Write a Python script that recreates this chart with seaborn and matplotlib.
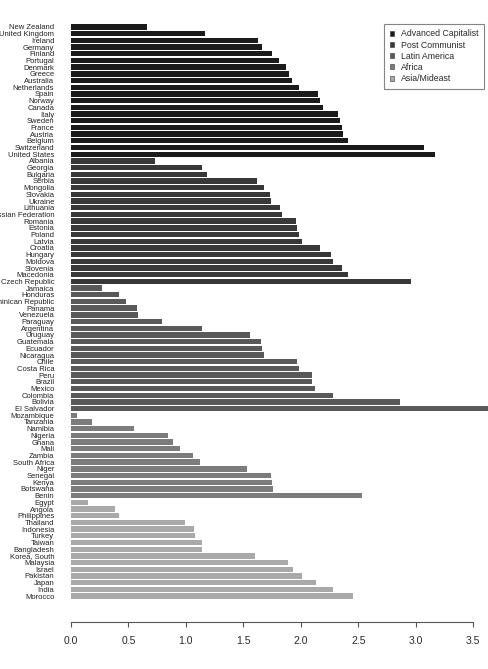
import pandas as pd
import matplotlib.pyplot as plt
from matplotlib.patches import Patch
import seaborn as sns

# valores, por grupo de países
grupos = ['Advanced Capitalist', 'Post Communist', 'Latin America', 'Africa', 'Asia/Mideast']
cores = ['#1b1b1b', '#383838', '#595959', '#7c7c7c', '#a9a9a9']

paises_adv = ['New Zealand', 'United Kingdom', 'Ireland', 'Germany', 'Finland', 'Portugal',
              'Denmark', 'Greece', 'Australia', 'Netherlands', 'Spain', 'Norway', 'Canada',
              'Italy', 'Sweden', 'France', 'Austria', 'Belgium', 'Switzerland', 'United States']
valores_adv = [0.66, 1.17, 1.63, 1.66, 1.75, 1.81, 1.87, 1.90, 1.92, 1.98, 2.15, 2.17, 2.19,
               2.32, 2.34, 2.36, 2.37, 2.41, 3.07, 3.17]

paises_pc = ['Albania', 'Georgia', 'Bulgaria', 'Serbia', 'Mongolia', 'Slovakia', 'Ukraine',
             'Lithuania', 'Russian Federation', 'Romania', 'Estonia', 'Poland', 'Latvia',
             'Croatia', 'Hungary', 'Moldova', 'Slovenia', 'Macedonia', 'Czech Republic']
valores_pc = [0.73, 1.14, 1.18, 1.62, 1.68, 1.73, 1.74, 1.82, 1.84, 1.96, 1.97, 1.98, 2.01,
              2.17, 2.26, 2.28, 2.36, 2.41, 2.96]

paises_la = ['Jamaica', 'Honduras', 'Dominican Republic', 'Panama', 'Venezuela', 'Paraguay',
             'Argentina', 'Uruguay', 'Guatemala', 'Ecuador', 'Nicaragua', 'Chile', 'Costa Rica',
             'Peru', 'Brazil', 'Mexico', 'Colombia', 'Bolivia', 'El Salvador']
valores_la = [0.27, 0.42, 0.48, 0.57, 0.58, 0.79, 1.14, 1.56, 1.65, 1.66, 1.68, 1.97, 1.98,
              2.10, 2.10, 2.12, 2.28, 2.86, 3.70]

paises_af = ['Mozambique', 'Tanzania', 'Namibia', 'Nigeria', 'Ghana', 'Mali', 'Zambia',
             'South Africa', 'Niger', 'Senegal', 'Kenya', 'Botswana', 'Benin']
valores_af = [0.05, 0.18, 0.55, 0.84, 0.89, 0.95, 1.06, 1.12, 1.53, 1.74, 1.75, 1.76, 2.53]

paises_as = ['Egypt', 'Angola', 'Philippines', 'Thailand', 'Indonesia', 'Turkey', 'Taiwan',
             'Bangladesh', 'Korea, South', 'Malaysia', 'Israel', 'Pakistan', 'Japan', 'India',
             'Morocco']
valores_as = [0.145, 0.38, 0.42, 0.99, 1.07, 1.08, 1.14, 1.14, 1.60, 1.89, 1.93, 2.01, 2.13,
              2.28, 2.45]

ticks_x = [0.0, 0.5, 1.0, 1.5, 2.0, 2.5, 3.0, 3.5]

# --- montar o DataFrame ---
partes = []
for g, p, v in zip(grupos,
                   [paises_adv, paises_pc, paises_la, paises_af, paises_as],
                   [valores_adv, valores_pc, valores_la, valores_af, valores_as]):
    partes.append(pd.DataFrame({'pais': p, 'valor': v, 'grupo': g}))
df = pd.concat(partes, ignore_index=True)

sns.set_theme(style="white")
plt.rcParams['font.family'] = ['Liberation Sans', 'DejaVu Sans']

W, H = 489, 669
fig = plt.figure(figsize=(W / 100, H / 100), dpi=100)
topo, base = 23.65, 599.4
ax = fig.add_axes([71 / W, 1 - base / H, 402.3 / W, (base - topo) / H])

sns.barplot(data=df, x='valor', y='pais', hue='grupo', order=list(df['pais']),
            hue_order=grupos, palette=cores, dodge=False, saturation=1,
            width=0.8, linewidth=0, legend=False, ax=ax)
for barra in ax.patches:
    barra.set_clip_on(False)

ax.set_xlim(0, 3.5)
ax.set_xticks(ticks_x)
ax.set_xticklabels([f'{t:.1f}' for t in ticks_x])
ax.set_xlabel('')
ax.set_ylabel('')

for lado in ['left', 'top', 'right']:
    ax.spines[lado].set_visible(False)
ax.spines['bottom'].set_position(('outward', 16))
ax.spines['bottom'].set_color('#555555')
ax.spines['bottom'].set_linewidth(0.8)

ax.tick_params(axis='y', length=0, pad=12, labelsize=5.5, labelcolor='#222222')
ax.tick_params(axis='x', length=3.6, width=0.8, color='#555555', direction='out',
               pad=7, labelsize=7.5, labelcolor='#2a2a2a', bottom=True)

alcas = [Patch(facecolor=c, edgecolor='#333333', linewidth=0.4) for c in cores]
leg = fig.legend(alcas, grupos, loc='upper right',
                 bbox_to_anchor=(483.7 / W, 1 - 24 / H), bbox_transform=fig.transFigure,
                 fontsize=6.3, frameon=True, fancybox=False, borderaxespad=0,
                 handlelength=0.5, handleheight=0.5, handletextpad=0.8,
                 labelspacing=0.26, borderpad=0.6)
leg.get_frame().set_edgecolor('#666666')
leg.get_frame().set_linewidth(0.8)
for t in leg.get_texts():
    t.set_color('#2a2a2a')

fig.savefig('out.png', dpi=100)
